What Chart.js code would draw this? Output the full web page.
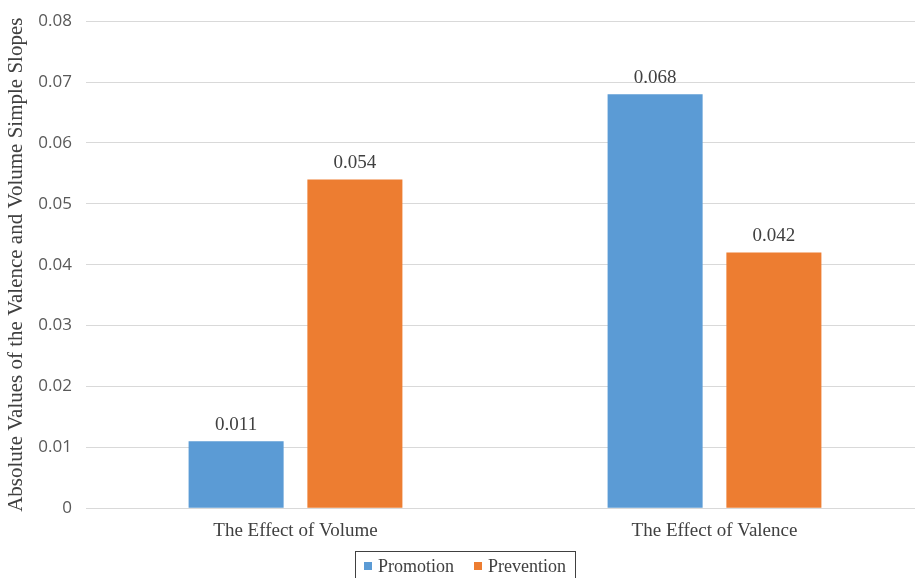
<!DOCTYPE html>
<html>
<head>
<meta charset="utf-8">
<script src="https://cdn.jsdelivr.net/npm/chart.js@4.4.0/dist/chart.umd.min.js"></script>
<style>
  html, body { margin: 0; padding: 0; background: #fff; overflow: hidden; }
  #wrap { width: 915px; height: 578px; overflow: hidden; }
  #chart { display: block; margin-top: -3px; }
</style>
</head>
<body>
<div id="wrap"><canvas id="chart" width="925" height="581"></canvas></div>
<script>
// chart data
const categories = ["The Effect of Volume", "The Effect of Valence"];
const seriesNames = ["Promotion", "Prevention"];
const seriesColors = ["#5b9bd5", "#ed7d31"];
const promotion = [0.011, 0.068];
const prevention = [0.054, 0.042];
const yTicks = [0, 0.01, 0.02, 0.03, 0.04, 0.05, 0.06, 0.07, 0.08];

const serif = "'Liberation Serif', 'Times New Roman', serif";
const sans = "'Open Sans', 'Liberation Sans', sans-serif";

// value labels above each bar
const barLabels = {
  id: "barLabels",
  afterDatasetsDraw(chart) {
    const ctx = chart.ctx;
    ctx.save();
    ctx.font = "19px " + serif;
    ctx.fillStyle = "#404040";
    ctx.textAlign = "center";
    ctx.textBaseline = "bottom";
    chart.data.datasets.forEach((ds, i) => {
      chart.getDatasetMeta(i).data.forEach((bar, j) => {
        ctx.fillText(ds.data[j].toFixed(3), bar.x, bar.y - 7);
      });
    });
    ctx.restore();
  }
};

// boxed legend under the axis (canvas is shifted up 3px)
const boxLegend = {
  id: "boxLegend",
  afterDraw(chart) {
    const ctx = chart.ctx;
    ctx.save();
    ctx.font = "18px " + serif;
    ctx.textBaseline = "alphabetic";
    const sq = 8, gapSq = 6, gapItem = 20, padX = 9;
    const widths = seriesNames.map(n => sq + gapSq + ctx.measureText(n).width);
    const inner = widths.reduce((a, b) => a + b, 0) + gapItem * (widths.length - 1);
    const boxW = inner + padX * 2;
    const cx = 465;
    const top = 554;
    const left = Math.round(cx - boxW / 2);
    ctx.strokeStyle = "#404040";
    ctx.lineWidth = 1;
    ctx.strokeRect(left + 0.5, top + 0.5, Math.round(boxW), 40);
    let x = left + padX;
    seriesNames.forEach((n, i) => {
      ctx.fillStyle = seriesColors[i];
      ctx.fillRect(x, top + 11, sq, sq);
      ctx.fillStyle = "#404040";
      ctx.fillText(n, x + sq + gapSq, top + 21);
      x += widths[i] + gapItem;
    });
    ctx.restore();
  }
};

new Chart(document.getElementById("chart"), {
  type: "bar",
  data: {
    labels: categories,
    datasets: [
      {
        label: seriesNames[0],
        data: promotion,
        backgroundColor: seriesColors[0],
        categoryPercentage: 0.567,
        barPercentage: 0.8
      },
      {
        label: seriesNames[1],
        data: prevention,
        backgroundColor: seriesColors[1],
        categoryPercentage: 0.567,
        barPercentage: 0.8
      }
    ]
  },
  options: {
    responsive: false,
    animation: false,
    layout: { padding: { top: 0, right: 1, left: 4, bottom: 33 } },
    plugins: {
      legend: { display: false },
      tooltip: { enabled: false }
    },
    scales: {
      x: {
        grid: { display: false },
        border: { color: "#d9d9d9" },
        ticks: {
          font: { family: serif, size: 19 },
          color: "#404040",
          padding: 3
        }
      },
      y: {
        min: 0,
        max: 0.08,
        afterBuildTicks(scale) {
          scale.ticks = yTicks.map(v => ({ value: v }));
        },
        afterFit(scale) {
          scale.width = 82;
        },
        grid: { color: "#d9d9d9", drawTicks: false },
        border: { display: false },
        ticks: {
          font: { family: sans, size: 17 },
          color: "#595959",
          padding: 14,
          callback: v => (v === 0 ? "0" : v.toFixed(2))
        },
        title: {
          display: true,
          text: "Absolute Values of the Valence and Volume Simple Slopes",
          font: { family: serif, size: 21 },
          color: "#404040",
          padding: { top: 0, bottom: 2 }
        }
      }
    }
  },
  plugins: [barLabels, boxLegend]
});
</script>
</body>
</html>
